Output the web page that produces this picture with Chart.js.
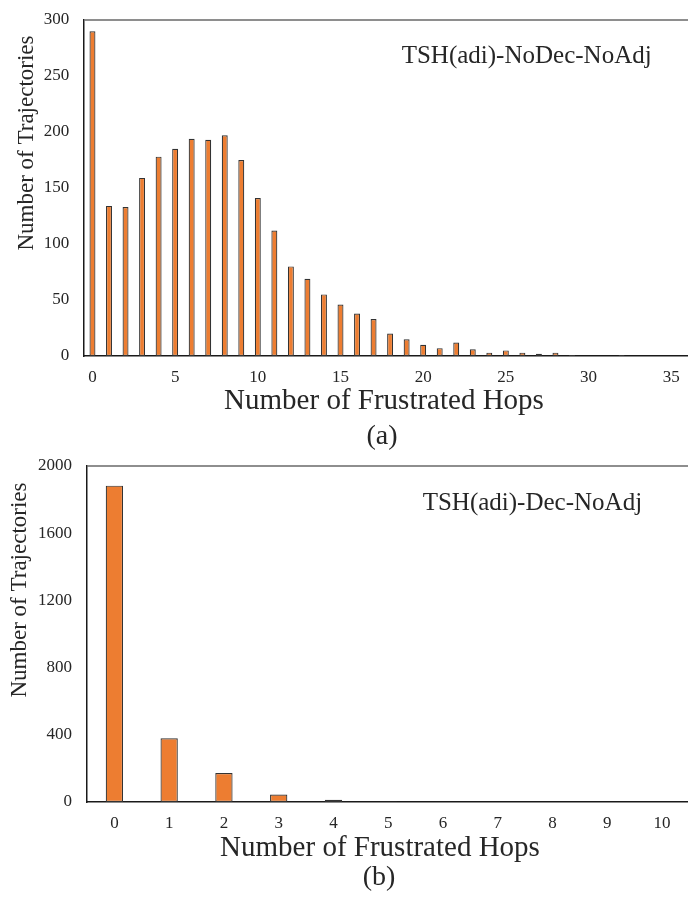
<!DOCTYPE html>
<html>
<head>
<meta charset="utf-8">
<title>Frustrated hops</title>
<script src="https://cdn.jsdelivr.net/npm/chart.js@4.4.1/dist/chart.umd.min.js"></script>
<style>
  html, body { margin: 0; padding: 0; background: #fff; overflow: hidden; }
  #wrap { position: relative; width: 688px; height: 899px; overflow: hidden; }
  canvas { position: absolute; left: 0; }
  #chartA { top: 0; }
  #chartB { top: 450px; }
</style>
</head>
<body>
<div id="wrap">
  <canvas id="chartA" width="700" height="456"></canvas>
  <canvas id="chartB" width="700" height="449"></canvas>
</div>
<script>
// (a) TSH(adi)-NoDec-NoAdj
const hopsA = ['0', '1', '2', '3', '4', '5', '6', '7', '8', '9', '10', '11', '12',
  '13', '14', '15', '16', '17', '18', '19', '20', '21', '22', '23', '24', '25',
  '26', '27', '28', '29', '30', '31', '32', '33', '34', '35', '36'];
const trajA = [290, 134, 133, 159, 178, 185, 194, 193, 197, 175, 141, 112, 80,
  69, 55, 46, 38, 33, 20, 15, 10, 7, 12, 6, 3, 5,
  3, 2, 3, 1, 0, 0, 1, 0, 0, 0, 0];
const yTicksA = [0, 50, 100, 150, 200, 250, 300];
const xShownA = ['0', '5', '10', '15', '20', '25', '30', '35'];

// (b) TSH(adi)-Dec-NoAdj
const hopsB = ['0', '1', '2', '3', '4', '5', '6', '7', '8', '9', '10'];
const trajB = [1883, 379, 172, 44, 14, 3, 2, 0, 0, 0, 0];
const yTicksB = [0, 400, 800, 1200, 1600, 2000];
const xShownB = hopsB;

const SERIF = '"Liberation Serif", "Times New Roman", serif';
const INK = '#262626';
Chart.defaults.font.family = SERIF;
Chart.defaults.color = INK;

// frame, axis titles, panel tag and method note
const figureText = {
  id: 'figureText',
  afterDraw(chart, args, o) {
    const { ctx, chartArea: a } = chart;
    ctx.save();
    ctx.strokeStyle = '#6a6a6a';
    ctx.lineWidth = 1.5;
    ctx.beginPath();
    ctx.moveTo(a.left, a.top);
    ctx.lineTo(a.right, a.top);
    ctx.lineTo(a.right, a.bottom);
    ctx.stroke();

    ctx.fillStyle = INK;
    ctx.font = '25px ' + SERIF;
    ctx.textAlign = 'left';
    ctx.textBaseline = 'alphabetic';
    ctx.fillText(o.note, o.noteX, a.top + o.noteDy);

    ctx.textAlign = 'center';
    ctx.textBaseline = 'middle';
    ctx.font = '29px ' + SERIF;
    ctx.fillText('Number of Frustrated Hops', o.xTitleX, a.bottom + o.xTitleDy);
    ctx.font = '28px ' + SERIF;
    ctx.fillText(o.tag, o.tagX, a.bottom + o.tagDy);

    ctx.translate(o.yTitleX, a.top + o.yTitleDy);
    ctx.rotate(-Math.PI / 2);
    ctx.font = '23px ' + SERIF;
    ctx.textBaseline = 'alphabetic';
    ctx.fillText('Number of Trajectories', 0, 0);
    ctx.restore();
  }
};

function makeChart(id, labels, values, yTicks, xShown, barPct, yWidth, padding, text) {
  return new Chart(document.getElementById(id), {
    type: 'bar',
    data: {
      labels: labels,
      datasets: [{
        data: values,
        backgroundColor: '#ED7D31',
        borderColor: '#333333',
        borderWidth: 1.2,
        borderSkipped: false,
        categoryPercentage: 1,
        barPercentage: barPct
      }]
    },
    options: {
      responsive: false,
      animation: false,
      layout: { padding: padding },
      plugins: {
        legend: { display: false },
        tooltip: { enabled: false },
        figureText: text
      },
      scales: {
        x: {
          offset: true,
          grid: { display: false, drawTicks: false },
          border: { display: true, color: '#1a1a1a', width: 1.5 },
          ticks: {
            autoSkip: false,
            maxRotation: 0,
            padding: 11,
            font: { size: 17 },
            callback(v) {
              const l = this.getLabelForValue(v);
              return xShown.includes(l) ? l : '';
            }
          },
          afterFit(s) { s.height = 40; }
        },
        y: {
          min: 0,
          max: yTicks[yTicks.length - 1],
          afterBuildTicks(s) { s.ticks = yTicks.map(v => ({ value: v })); },
          grid: { display: false, drawTicks: false },
          border: { display: true, color: '#1a1a1a', width: 1.5 },
          ticks: { padding: 15, font: { size: 17 }, callback: v => String(v) },
          afterFit(s) {
            s.width = yWidth;
            // plot area edges come from layout.padding only
            s.paddingTop = 0;
            s.paddingBottom = 0;
          }
        }
      }
    },
    plugins: [figureText]
  });
}

makeChart('chartA', hopsA, trajA, yTicksA, xShownA, 0.36, 84.2,
  { top: 20, right: 4, bottom: 60, left: 0 },
  { note: 'TSH(adi)-NoDec-NoAdj', noteX: 401.7, noteDy: 43,
    xTitleX: 384, xTitleDy: 45, tag: '(a)', tagX: 382, tagDy: 81,
    yTitleX: 33.3, yTitleDy: 123 });

makeChart('chartB', hopsB, trajB, yTicksB, xShownB, 0.316, 87,
  { top: 16, right: 10.5, bottom: 57, left: 0 },
  { note: 'TSH(adi)-Dec-NoAdj', noteX: 422.7, noteDy: 44,
    xTitleX: 380, xTitleDy: 46, tag: '(b)', tagX: 379, tagDy: 76,
    yTitleX: 26, yTitleDy: 124 });
</script>
</body>
</html>
